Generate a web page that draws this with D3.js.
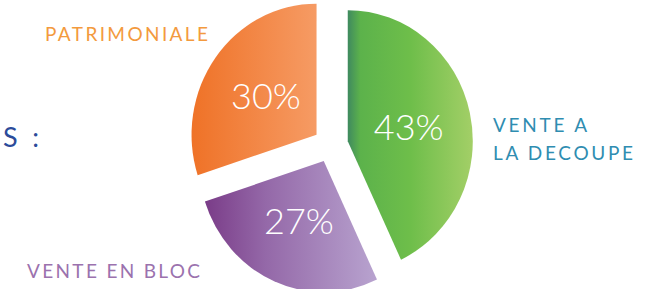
<!DOCTYPE html>
<html>
<head>
<meta charset="utf-8">
<script src="https://cdn.jsdelivr.net/npm/d3@7"></script>
<style>
  body { margin: 0; background: #fff; }
  svg { display: block; }
</style>
</head>
<body>
<svg id="chart"></svg>
<script>
// data
const categories = ["VENTE A LA DECOUPE", "VENTE EN BLOC", "PATRIMONIALE"];
const shares = [43, 27, 30];
const shareLabels = ["43%", "27%", "30%"];
const labelLines = [["VENTE A", "LA DECOUPE"], ["VENTE EN BLOC"], ["PATRIMONIALE"]];

const width = 653, height = 289;
const cx = 330.7, cy = 145;   // pie centre
const rx = 125, ry = 131;     // pie is a little taller than wide
const explode = 17.5;

const gradients = [
  [["0", "#3f8a5f"], ["0.1", "#5cb24b"], ["0.5", "#6ebe4a"], ["1", "#a3cf67"]],
  [["0", "#7a3c88"], ["0.35", "#9468a8"], ["1", "#b8a3cf"]],
  [["0", "#ef7227"], ["1", "#f69b64"]]
];
const labelColors = ["#2f8db1", "#9b72ae", "#f39a3e"];

const svg = d3.select("#chart")
    .attr("width", width)
    .attr("height", height)
    .attr("font-family", "Lato, 'Open Sans', sans-serif");

const defs = svg.append("defs");
gradients.forEach((stops, i) => {
  defs.append("linearGradient")
      .attr("id", "grad" + i)
      .attr("x1", 0).attr("x2", 1).attr("y1", 0).attr("y2", 0)
    .selectAll("stop")
    .data(stops)
    .join("stop")
      .attr("offset", d => d[0])
      .attr("stop-color", d => d[1]);
});

const pie = d3.pie().sort(null).value(d => d);
const arcs = pie(shares);
const arc = d3.arc().innerRadius(0).outerRadius(rx);
const sy = ry / rx;

const slice = svg.append("g")
  .selectAll("g")
  .data(arcs)
  .join("g")
    .attr("transform", d => {
      const m = (d.startAngle + d.endAngle) / 2;
      const ox = cx + explode * Math.sin(m);
      const oy = cy - explode * Math.cos(m);
      return `translate(${ox},${oy})`;
    });

slice.append("path")
    .attr("transform", `scale(1,${sy})`)
    .attr("d", arc)
    .attr("fill", (d, i) => `url(#grad${i})`);

slice.append("text")
    .attr("x", d => arc.centroid(d)[0])
    .attr("y", d => arc.centroid(d)[1] * sy)
    .attr("dy", "0.36em")
    .attr("text-anchor", "middle")
    .attr("fill", "#fff")
    .attr("font-size", 36)
    .attr("font-weight", 300)
    .text((d, i) => shareLabels[i]);

// category labels
const labelPos = [
  { x: 493, y: 132, w: [94, 140] },
  { x: 27, y: 278, w: [173] },
  { x: 45, y: 41, w: [163] }
];
labelLines.forEach((lines, i) => {
  const p = labelPos[i];
  lines.forEach((line, j) => {
    svg.append("text")
        .attr("x", p.x)
        .attr("y", p.y + j * 27.5)
        .attr("fill", labelColors[i])
        .attr("font-size", 19)
        .attr("textLength", p.w[j])
        .attr("lengthAdjust", "spacing")
        .text(line);
  });
});

// tail of the cut-off title
svg.append("text")
    .attr("x", 3)
    .attr("y", 147)
    .attr("fill", "#2c4b9a")
    .attr("font-size", 27)
    .attr("textLength", 36)
    .attr("lengthAdjust", "spacing")
    .text("S :");
</script>
</body>
</html>
